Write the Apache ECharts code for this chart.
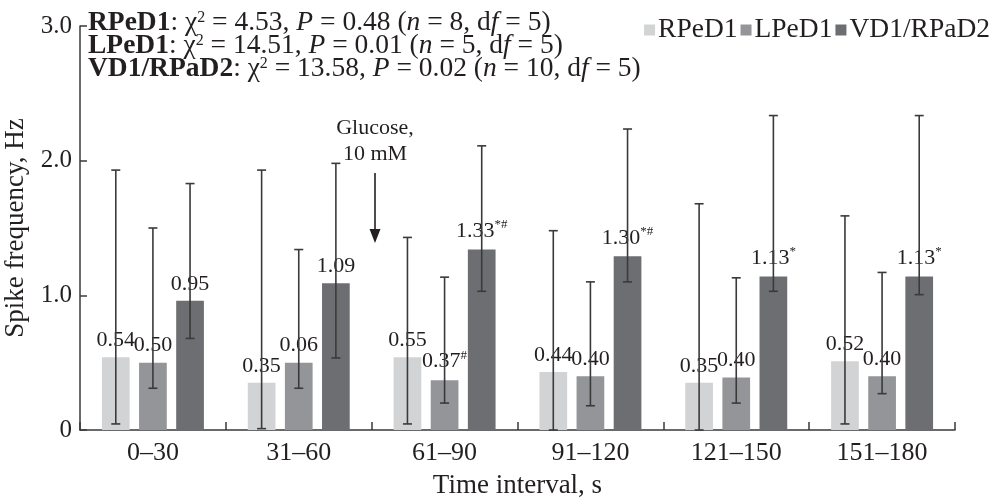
<!DOCTYPE html>
<html>
<head>
<meta charset="utf-8">
<script src="https://cdn.jsdelivr.net/npm/echarts@6/dist/echarts.min.js"></script>
<style>
html,body{margin:0;padding:0;background:#fff;}
#chart{width:999px;height:497px;}
</style>
</head>
<body>
<div id="chart"></div>
<script>
// ---- data ----
var categories = ['0–30', '31–60', '61–90', '91–120', '121–150', '151–180'];
var seriesNames = ['RPeD1', 'LPeD1', 'VD1/RPaD2'];

var rpeValues = [0.54, 0.35, 0.54, 0.43, 0.35, 0.51];
var lpeValues = [0.50, 0.50, 0.37, 0.40, 0.39, 0.40];
var vdValues  = [0.96, 1.09, 1.34, 1.29, 1.14, 1.14];

var rpeLabels = ['0.54', '0.35', '0.55', '0.44', '0.35', '0.52'];
var lpeLabels = ['0.50', '0.06', '0.37#', '0.40', '0.40', '0.40'];
var vdLabels  = ['0.95', '1.09', '1.33*#', '1.30*#', '1.13*', '1.13*'];

var rpeLow  = [0.045, 0.01, 0.045, 0.0, 0.0, 0.045];
var rpeHigh = [1.93, 1.93, 1.43, 1.48, 1.68, 1.59];
var lpeLow  = [0.31, 0.31, 0.20, 0.18, 0.20, 0.27];
var lpeHigh = [1.50, 1.34, 1.135, 1.10, 1.13, 1.17];
var vdLow   = [0.68, 0.535, 1.03, 1.10, 1.03, 1.005];
var vdHigh  = [1.83, 1.98, 2.11, 2.235, 2.335, 2.335];

var yTicks = [0, 1, 2, 3];

var statsLines = [
  ['RPeD1', '4.53', '0.48', '8', '5'],
  ['LPeD1', '14.51', '0.01', '5', '5'],
  ['VD1/RPaD2', '13.58', '0.02', '10', '5']
];

// ---- style ----
var FONT = 'Liberation Serif';
var TXT = '#231f20';
var colors = ['#d1d3d4', '#939598', '#6d6e71'];
var BAR_W = 0.19, BAR_GAP = 0.34;

var values = [rpeValues, lpeValues, vdValues];
var labels = [rpeLabels, lpeLabels, vdLabels];
var lows = [rpeLow, lpeLow, vdLow];
var highs = [rpeHigh, lpeHigh, vdHigh];

function labelFmt(arr) {
  return function (p) {
    var m = /^([\d.]+)(.*)$/.exec(arr[p.dataIndex]);
    return m[1] + (m[2] ? '{s|' + m[2] + '}' : '');
  };
}

var series = [];
for (var s = 0; s < 3; s++) {
  series.push({
    name: seriesNames[s],
    type: 'bar',
    data: values[s],
    barWidth: (BAR_W * 100) + '%',
    barGap: (BAR_GAP * 100) + '%',
    itemStyle: { color: colors[s] },
    z: 2,
    label: {
      show: true,
      position: 'top',
      distance: 6,
      formatter: labelFmt(labels[s]),
      fontFamily: FONT,
      fontSize: 22,
      color: TXT,
      rich: {
        s: { fontFamily: FONT, fontSize: 13, color: TXT, padding: [0, 0, 12, 0] }
      }
    }
  });
}

var errData = [];
for (var s2 = 0; s2 < 3; s2++) {
  for (var i = 0; i < categories.length; i++) {
    errData.push([i, lows[s2][i], highs[s2][i], s2]);
  }
}

series.push({
  type: 'custom',
  name: 'err',
  z: 5,
  silent: true,
  data: errData,
  renderItem: function (params, api) {
    var idx = api.value(0);
    var lo = api.coord([idx, api.value(1)]);
    var hi = api.coord([idx, api.value(2)]);
    var band = api.size([1, 0])[0];
    var off = (api.value(3) - 1) * band * BAR_W * (1 + BAR_GAP);
    var x = lo[0] + off;
    var cap = 4.5;
    var st = { stroke: '#3a3a3a', lineWidth: 1.6 };
    return {
      type: 'group',
      children: [
        { type: 'line', shape: { x1: x, y1: lo[1], x2: x, y2: hi[1] }, style: st },
        { type: 'line', shape: { x1: x - cap, y1: hi[1], x2: x + cap, y2: hi[1] }, style: st },
        { type: 'line', shape: { x1: x - cap, y1: lo[1], x2: x + cap, y2: lo[1] }, style: st }
      ]
    };
  }
});

var statsText = statsLines.map(function (l) {
  return '{b|' + l[0] + '}{r|: χ}{sup|2}{r| = ' + l[1] + ', }{i|P}{r| = ' + l[2] +
    ' (}{i|n}{r| = ' + l[3] + ', d}{i|f}{r| = ' + l[4] + ')}';
}).join('\n');

var SF = 27.5, LH = 23;
var option = {
  backgroundColor: '#fff',
  animation: false,
  textStyle: { fontFamily: FONT, color: TXT },
  grid: { left: 80, right: 44, top: 26, bottom: 67, containLabel: false, outerBoundsMode: 'none' },
  legend: {
    data: seriesNames,
    right: 4,
    top: 11,
    icon: 'rect',
    itemWidth: 11,
    itemHeight: 11,
    itemGap: 3,
    textStyle: { fontFamily: FONT, fontSize: 27.5, color: TXT, padding: [0, 0, 0, -2] }
  },
  xAxis: {
    type: 'category',
    data: categories,
    name: 'Time interval, s',
    nameLocation: 'middle',
    nameGap: 42,
    nameTextStyle: { fontFamily: FONT, fontSize: 27, color: TXT },
    axisLine: { lineStyle: { color: '#3a3a3a', width: 1.5 } },
    axisTick: { show: true, inside: true, length: 8, lineStyle: { color: '#3a3a3a', width: 1.5 } },
    axisLabel: { fontFamily: FONT, fontSize: 26, color: TXT, margin: 10 }
  },
  yAxis: {
    type: 'value',
    min: yTicks[0],
    max: yTicks[yTicks.length - 1],
    interval: 1,
    name: 'Spike frequency, Hz',
    nameLocation: 'middle',
    nameGap: 42,
    nameRotate: 90,
    nameTextStyle: { fontFamily: FONT, fontSize: 27, color: TXT },
    splitLine: { show: false },
    axisLine: { show: true, lineStyle: { color: '#3a3a3a', width: 1.5 } },
    axisTick: { show: true, inside: true, length: 7, lineStyle: { color: '#3a3a3a', width: 1.5 } },
    axisLabel: {
      fontFamily: FONT, fontSize: 25, color: TXT, margin: 8,
      formatter: function (v) { return v === 0 ? '0' : v.toFixed(1); }
    }
  },
  graphic: [
    {
      type: 'text',
      left: 88,
      top: 9,
      style: {
        text: statsText,
        fontFamily: FONT,
        fontSize: SF,
        lineHeight: LH,
        fill: TXT,
        rich: {
          b: { fontFamily: FONT, fontSize: SF, fontWeight: 'bold', fill: TXT, lineHeight: LH },
          r: { fontFamily: FONT, fontSize: SF, fill: TXT, lineHeight: LH },
          i: { fontFamily: FONT, fontSize: SF, fontStyle: 'italic', fill: TXT, lineHeight: LH },
          sup: { fontFamily: FONT, fontSize: 16, fill: TXT, padding: [0, 0, 11, 0], lineHeight: LH }
        }
      }
    },
    {
      type: 'text',
      x: 375,
      y: 115,
      style: {
        text: 'Glucose,\n10 mM',
        fontFamily: FONT,
        fontSize: 22,
        lineHeight: 26,
        fill: TXT,
        align: 'center'
      }
    },
    {
      type: 'line',
      shape: { x1: 375, y1: 173, x2: 375, y2: 232 },
      style: { stroke: '#231f20', lineWidth: 1.6 }
    },
    {
      type: 'polygon',
      shape: { points: [[369.5, 229], [380.5, 229], [375, 243]] },
      style: { fill: '#231f20' }
    }
  ],
  series: series
};

var chart = echarts.init(document.getElementById('chart'), null, { renderer: 'canvas' });
chart.setOption(option);
</script>
</body>
</html>
